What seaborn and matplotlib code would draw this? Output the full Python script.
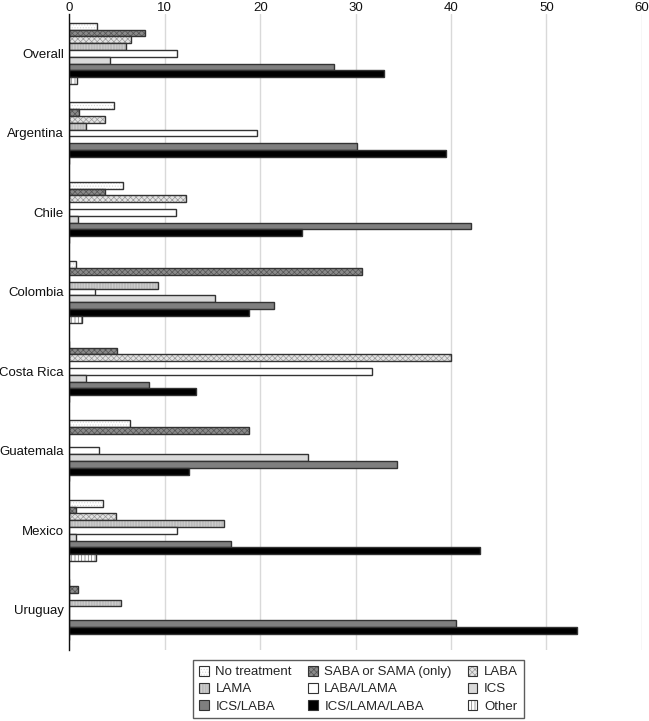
import pandas as pd
import matplotlib.pyplot as plt
import matplotlib.patches as mpatches
from matplotlib.colors import to_rgba
import seaborn as sns

countries = ["Overall", "Argentina", "Chile", "Colombia", "Costa Rica",
             "Guatemala", "Mexico", "Uruguay"]
treatments = ["No treatment", "SABA or SAMA (only)", "LABA", "LAMA",
              "LABA/LAMA", "ICS", "ICS/LABA", "ICS/LAMA/LABA", "Other"]

# percent of patients per treatment, one list per country (order = treatments)
overall    = [2.9, 7.9, 6.4, 5.9, 11.3, 4.3, 27.7, 33.0, 0.8]
argentina  = [4.7, 1.0, 3.7, 1.7, 19.7, 0.0, 30.1, 39.5, 0.0]
chile      = [5.6, 3.7, 12.2, 0.0, 11.2, 0.9, 42.1, 24.4, 0.0]
colombia   = [0.7, 30.7, 0.0, 9.3, 2.7, 15.3, 21.4, 18.8, 1.3]
costa_rica = [0.0, 5.0, 40.0, 0.0, 31.7, 1.7, 8.3, 13.3, 0.0]
guatemala  = [6.3, 18.8, 0.0, 0.0, 3.1, 25.0, 34.3, 12.5, 0.0]
mexico     = [3.5, 0.7, 4.9, 16.2, 11.3, 0.7, 16.9, 43.0, 2.8]
uruguay    = [0.0, 0.9, 0.0, 5.4, 0.0, 0.0, 40.5, 53.2, 0.0]

values = [overall, argentina, chile, colombia, costa_rica,
          guatemala, mexico, uruguay]

rows = []
for c, vals in zip(countries, values):
    for t, v in zip(treatments, vals):
        rows.append({"country": c, "treatment": t, "value": v})
df = pd.DataFrame(rows)

# (facecolor, hatch, hatch colour)
STYLE = {
    "No treatment":        ("#ffffff", "......", "#d8d8d8"),
    "SABA or SAMA (only)": ("#8a8a8a", "xxxxxx", "#555555"),
    "LABA":                ("#e4e4e4", "xxxxxx", "#999999"),
    "LAMA":                ("#bcbcbc", "||||||", "#d6d6d6"),
    "LABA/LAMA":           ("#ffffff", "", "#333333"),
    "ICS":                 ("#d9d9d9", "", "#333333"),
    "ICS/LABA":            ("#7f7f7f", "", "#333333"),
    "ICS/LAMA/LABA":       ("#000000", "", "#333333"),
    "Other":               ("#ffffff", "|||||", "#777777"),
}
EDGE = "#333333"

sns.set_style("white")
plt.rcParams["font.family"] = ["Liberation Sans", "DejaVu Sans"]
plt.rcParams["hatch.linewidth"] = 0.5

fig = plt.figure(figsize=(6.49, 7.21), dpi=100)
ax = fig.add_axes([0.107, 0.099, 0.882, 0.882])

palette = {t: STYLE[t][0] for t in treatments}
sns.barplot(data=df, y="country", x="value", hue="treatment",
            order=countries, hue_order=treatments, palette=palette,
            orient="h", width=0.77, saturation=1, legend=False, ax=ax)

for cont, t in zip(ax.containers, treatments):
    face, hatch, hcol = STYLE[t]
    for bar in cont:
        bar.set_edgecolor(EDGE)
        bar.set_linewidth(1.0)
        bar.set_hatch(hatch)
        bar._hatch_color = to_rgba(hcol)

ax.set_xlim(0, 60)
ax.set_xticks(range(0, 61, 10))
ax.xaxis.tick_top()
ax.tick_params(axis="both", length=0, labelsize=9.5, colors="#111111")
ax.tick_params(axis="x", pad=0)
ax.tick_params(axis="y", pad=4)
ax.grid(axis="x", color="#d9d9d9", linewidth=1)
ax.set_axisbelow(True)
ax.set_xlabel("")
ax.set_ylabel("")
for s in ["top", "right", "bottom"]:
    ax.spines[s].set_visible(False)
ax.spines["left"].set_color("#111111")
ax.spines["left"].set_linewidth(1.0)

handles = []
for t in treatments:
    face, hatch, hcol = STYLE[t]
    p = mpatches.Patch(facecolor=face, edgecolor=EDGE, hatch=hatch,
                       linewidth=0.8, label=t)
    p._hatch_color = to_rgba(hcol)
    handles.append(p)
order = [0, 3, 6, 1, 4, 7, 2, 5, 8]
leg = ax.legend([handles[i] for i in order], [treatments[i] for i in order],
                loc="upper center", bbox_to_anchor=(0.505, -0.006), ncol=3,
                frameon=True, fancybox=False, fontsize=9.5,
                handlelength=0.75, handleheight=0.75, handletextpad=0.5,
                columnspacing=1.2, labelspacing=0.35, borderpad=0.45)
leg.get_frame().set_edgecolor("#333333")
leg.get_frame().set_linewidth(1.0)

fig.savefig("out.png", dpi=100)
